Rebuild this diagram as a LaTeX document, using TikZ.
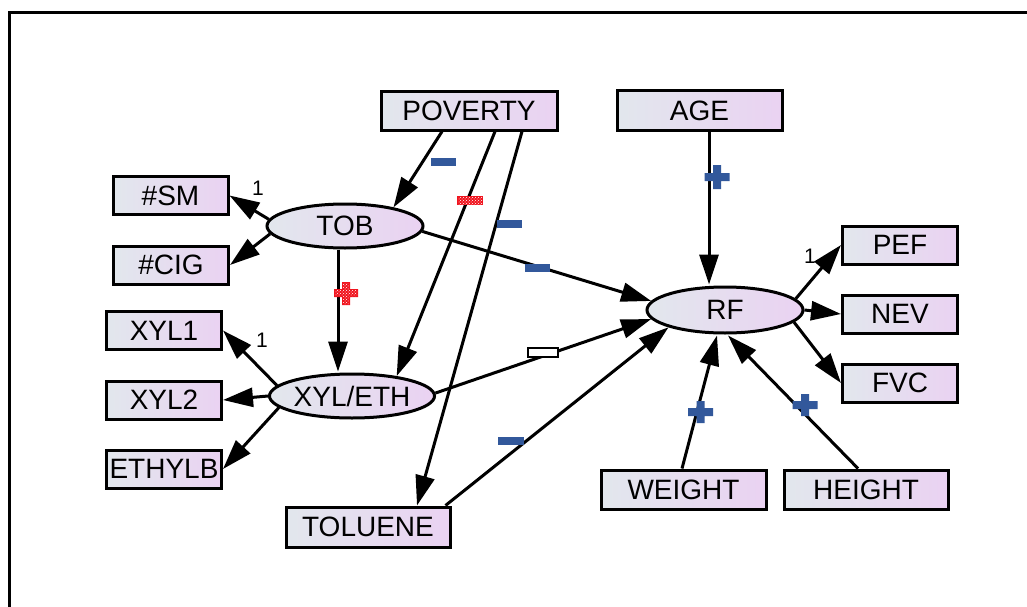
\documentclass[tikz,border=0pt]{standalone}
\usepackage{fontspec}
\setmainfont{Liberation Sans}
\usetikzlibrary{arrows.meta,shapes.geometric,patterns}
\definecolor{gl}{RGB}{226,231,237}
\definecolor{gr}{RGB}{234,210,242}
\definecolor{sblue}{RGB}{50,88,155}
\definecolor{sred}{RGB}{240,20,30}
\tikzset{
  obs/.style={draw, line width=3pt, rectangle, minimum width=115, minimum height=38,
    left color=gl, right color=gr, inner sep=0pt, font=\fontsize{28}{30}\selectfont},
  obswide/.style={obs, minimum width=165, minimum height=39},
  lat/.style={draw, line width=3pt, ellipse, minimum width=156, minimum height=44,
    left color=gl, right color=gr, inner sep=0pt, font=\fontsize{28}{30}\selectfont},
  conn/.style={line width=3pt, -{Triangle[length=30pt,width=19pt]}},
  one/.style={font=\fontsize{21}{22}\selectfont, inner sep=0pt},
  bminus/.style={fill=sblue, minimum width=25, minimum height=8, inner sep=0pt},
  wminus/.style={draw, line width=2.2pt, fill=white, minimum width=30, minimum height=9, inner sep=0pt},
}
\begin{document}
\begin{tikzpicture}[x=1pt,y=-1pt]
\useasboundingbox (0,0) rectangle (1027,607);
\draw[line width=3pt] (1030,13) -- (9,13) -- (9,610);

% nodes
\node[obswide, minimum width=176, minimum height=38] (POV) at (469,111) {POVERTY};
\node[obswide] (AGE) at (699.5,110.5) {AGE};
\node[obs] (SM) at (170.5,195.5) {\#SM};
\node[obs] (CIG) at (171,265) {\#CIG};
\node[lat] (TOB) at (345,226) {TOB};
\node[obs] (XYL1) at (164,330.5) {XYL1};
\node[obs] (XYL2) at (164,400) {XYL2};
\node[obs] (ETH) at (164,469) {ETHYLB};
\node[lat] (XYL) at (352,396) {XYL/ETH};
\node[obswide, minimum width=164, minimum height=40] (TOL) at (368,527) {TOLUENE};
\node[lat, minimum height=46] (RF) at (725,310) {RF};
\node[obs] (PEF) at (900,245) {PEF};
\node[obs] (NEV) at (900,314) {NEV};
\node[obs] (FVC) at (900,383) {FVC};
\node[obswide] (WEI) at (683.5,489.5) {WEIGHT};
\node[obswide, minimum width=164] (HEI) at (866,489.5) {HEIGHT};

% connectors
\draw[conn] ([xshift=-27]POV.south) -- (TOB.21);
\draw[conn] ([xshift=26]POV.south) -- (XYL.24);
\draw[conn] ([xshift=53]POV.south) -- ([xshift=49]TOL.north);
\draw[conn] ([xshift=9.5]AGE.south) -- ([xshift=-16,yshift=1]RF.north);
\draw[conn] (TOB.175) -- (SM.east);
\draw[conn] (TOB.186) -- (CIG.east);
\draw[conn] ([xshift=-7]TOB.south) -- ([xshift=-14,yshift=1]XYL.north);
\draw[conn] (TOB.-4) -- (RF.173);
\draw[conn] (XYL.2) -- (RF.187);
\draw[conn] ([xshift=-6]TOL.north east) -- (RF.197);
\draw[conn] (XYL.172) -- (XYL1.east);
\draw[conn] (XYL.west) -- (XYL2.east);
\draw[conn] (XYL.189) -- (ETH.east);
\draw[conn] (RF.9) -- (PEF.west);
\draw[conn] (RF.east) -- (NEV.west);
\draw[conn] (RF.-10) -- (FVC.west);
\draw[conn] ([xshift=-1.5]WEI.north) -- ([xshift=-8,yshift=-1]RF.south);
\draw[conn] ([xshift=-8]HEI.north) -- ([xshift=3,yshift=-1]RF.south);

% loading labels
\node[one] (l1) at (258,188) {1};
\node[one] (l2) at (262,340) {1};
\node[one] (l3) at (810,256) {1};

% sign markers
\node[bminus] (m1) at (443.5,162) {};
\node[bminus] (m2) at (509.5,224) {};
\node[bminus] (m3) at (537.5,268) {};
\node[bminus, minimum width=26] (m4) at (511,441) {};
\node[wminus] (m5) at (543,352.5) {};
% red minus
\fill[sred] (457,196) rectangle (483,205);
\fill[pattern=crosshatch dots, pattern color=white] (458,197) rectangle (482,204);
% red plus
\fill[sred] (334,289) rectangle (358,297) (342,282) rectangle (350,305);
\fill[pattern=crosshatch dots, pattern color=white] (335,290) rectangle (357,296) (343,283) rectangle (349,304);
% blue plus
\fill[sblue] (704.5,173) rectangle (729.5,181) (713,165) rectangle (721,189);
\fill[sblue] (688,408) rectangle (713,416) (696.5,401) rectangle (704.5,423);
\fill[sblue] (792.5,401) rectangle (817.5,409) (801,394) rectangle (809,416);
\end{tikzpicture}
\end{document}
